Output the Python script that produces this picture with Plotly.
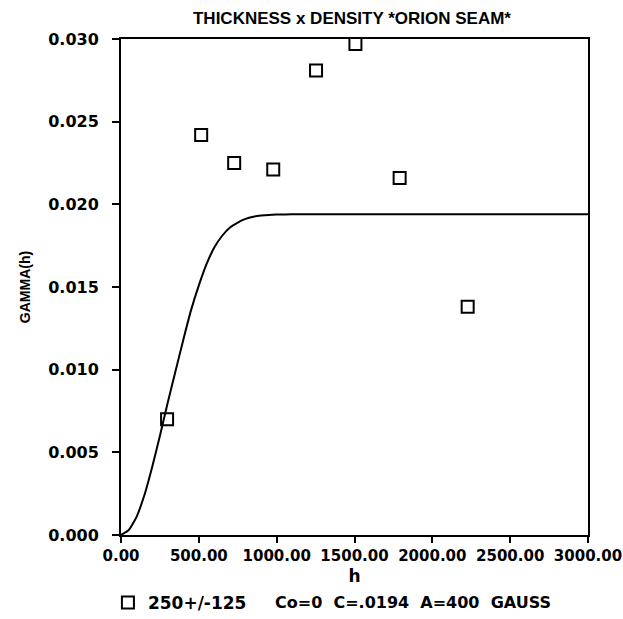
import plotly.graph_objects as go

lag_h = [296, 515, 727, 978, 1253, 1506, 1790, 2227]
gamma_obs = [0.0070, 0.0242, 0.0225, 0.0221, 0.0281, 0.0297, 0.0216, 0.0138]

# Model curve
model_h = [0, 50, 100, 150, 200, 250, 300, 350, 400, 450, 500, 550, 600, 650, 700, 750, 800, 850, 900, 950, 1000, 1100, 1200, 1500, 2000, 2500, 3000]
model_gamma = [0.0, 0.0003, 0.0011, 0.0024, 0.0041, 0.0060, 0.0080, 0.0099, 0.0118, 0.0136, 0.0151, 0.0164, 0.0174, 0.0181, 0.0186, 0.0189, 0.01912, 0.01925, 0.01932, 0.01936, 0.01938, 0.0194, 0.0194, 0.0194, 0.0194, 0.0194, 0.0194]

x_ticks = [0, 500, 1000, 1500, 2000, 2500, 3000]
x_ticklabels = ["0.00", "500.00", "1000.00", "1500.00", "2000.00", "2500.00", "3000.00"]
y_ticks = [0, 0.005, 0.010, 0.015, 0.020, 0.025, 0.030]
y_ticklabels = ["0.000", "0.005", "0.010", "0.015", "0.020", "0.025", "0.030"]

title_text = "THICKNESS x DENSITY *ORION SEAM*"
legend_name = "250+/-125"
model_text = "Co=0  C=.0194  A=400  GAUSS"

FONT = "DejaVu Sans"
BFONT = dict(family=FONT, size=17, color="black", weight="bold")

fig = go.Figure()
fig.add_trace(go.Scatter(
    x=model_h, y=model_gamma, mode="lines", line=dict(color="black", width=2, shape="spline", smoothing=0.5),
    showlegend=False, hoverinfo="skip"))
fig.add_trace(go.Scatter(
    x=lag_h, y=gamma_obs, mode="markers", name=legend_name,
    marker=dict(symbol="square-open", size=12, color="black", line=dict(width=2, color="black")),
    cliponaxis=False))

fig.update_layout(
    width=623, height=619,
    margin=dict(l=121, r=35, t=39, b=84, autoexpand=False),
    paper_bgcolor="white", plot_bgcolor="white",
    font=dict(family=FONT, color="black", size=17),
    title=dict(text=title_text, x=0.565, xanchor="center", y=0.971, yanchor="middle",
               font=dict(family="Liberation Sans", size=17, color="black", weight="bold")),
    showlegend=True,
    legend=dict(orientation="h", x=-0.028, xanchor="left", y=-0.137, yanchor="middle",
                font=BFONT, itemwidth=30, bgcolor="rgba(0,0,0,0)"),
    xaxis=dict(range=[0, 3000], tickvals=x_ticks, ticktext=x_ticklabels, tickangle=0,
               tickfont=dict(family=FONT, size=15, color="black", weight="bold"),
               ticklabeloverflow="allow", automargin=False,
               showline=True, linecolor="black", linewidth=2, mirror=True,
               ticks="outside", ticklen=6, tickwidth=2, tickcolor="black",
               showgrid=False, zeroline=False,
               title=dict(text="h", font=BFONT, standoff=6)),
    yaxis=dict(range=[0, 0.030], tickvals=y_ticks, ticktext=y_ticklabels,
               tickfont=dict(family=FONT, size=16, color="black", weight="bold"),
               ticklabelstandoff=10, automargin=False,
               showline=True, linecolor="black", linewidth=2, mirror=True,
               ticks="outside", ticklen=7, tickwidth=2, tickcolor="black",
               showgrid=False, zeroline=False,
               title=dict(text="GAMMA(h)", font=dict(family="Liberation Sans", size=14, weight="bold"), standoff=14)),
)
fig.add_annotation(text=model_text, xref="paper", yref="paper", x=0.3255, y=-0.137,
                   xanchor="left", yanchor="middle", showarrow=False,
                   font=dict(family=FONT, size=16, color="black", weight="bold"))

fig.write_html("out.html")
